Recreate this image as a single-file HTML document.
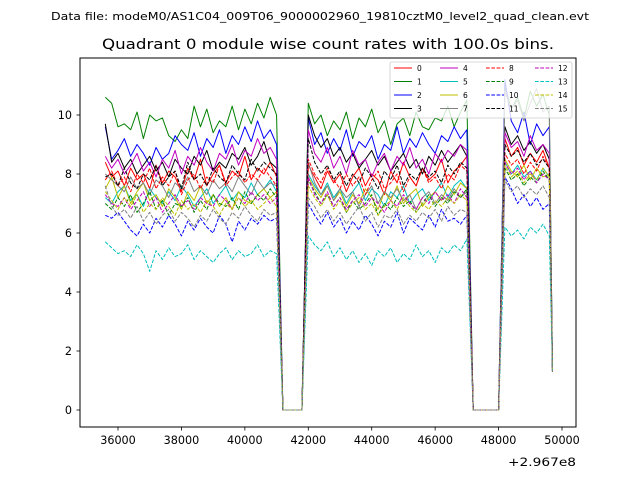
<!DOCTYPE html>
<html><head><meta charset="utf-8"><style>
body{margin:0;background:#fff;}
svg{display:block;font-family:"DejaVu Sans","Liberation Sans",sans-serif;}
</style></head><body>
<svg id="chart" width="640" height="480" viewBox="0 0 640 480">
<rect width="640" height="480" fill="#fff"/>
<text x="51" y="20" font-size="10.5" textLength="538" lengthAdjust="spacingAndGlyphs">Data file: modeM0/AS1C04_009T06_9000002960_19810cztM0_level2_quad_clean.evt</text>
<text x="102" y="49" font-size="14" textLength="452" lengthAdjust="spacingAndGlyphs">Quadrant 0 module wise count rates with 100.0s bins.</text>
<g id="plot"></g>
<rect x="80" y="58" width="496" height="369" fill="none" stroke="#000" stroke-width="1"/>
<g id="xticks"></g>
<g id="yticks"></g>
<text x="508" y="466" font-size="11.5" textLength="68" lengthAdjust="spacingAndGlyphs">+2.967e8</text>
<g id="legend"></g>
</svg>
<script>
const xTickVals = [36000,38000,40000,42000,44000,46000,48000,50000];
const yTickVals = [0,2,4,6,8,10];
const seriesNames = ["0","1","2","3","4","5","6","7","8","9","10","11","12","13","14","15"];
const seriesColors = ["#ff0000","#008000","#0000ff","#000000","#bf00bf","#00bfbf","#bfbf00","#808080","#ff0000","#008000","#0000ff","#000000","#bf00bf","#00bfbf","#bfbf00","#808080"];
const times = [];
for (let t = 35600; t <= 49600; t += 200) times.push(t);
times.push(49700);
const s0 = [8.4,7.9,8.1,7.6,8.2,7.8,8.0,7.5,8.3,7.7,8.1,7.9,7.4,8.2,7.8,8.5,7.6,8.0,8.3,7.7,8.1,7.9,8.6,7.8,8.2,8.0,8.4,7.9,0,0,0,0,8.3,7.9,7.5,8.1,7.7,8.0,7.4,7.9,8.2,7.6,8.0,7.8,7.3,8.1,7.7,8.4,7.9,7.6,8.2,7.8,8.0,8.5,7.7,8.1,8.3,8.6,0,0,0,0,0,9.2,8.6,8.9,8.3,8.7,8.4,8.8,8.2,1.4];
const s1 = [10.6,10.4,9.6,9.7,9.5,10.1,9.2,10.0,9.8,9.9,9.3,9.1,9.5,9.2,10.3,9.6,10.2,9.4,9.8,9.6,10.3,9.5,10.2,9.7,10.4,9.9,10.6,10.0,0,0,0,0,10.4,9.7,10.0,9.3,9.8,9.5,10.1,9.2,9.9,9.6,10.2,9.4,9.8,9.0,9.7,9.9,9.3,10.1,9.6,9.5,9.9,9.8,10.3,9.6,10.1,10.5,0,0,0,0,0,11.0,10.2,10.6,9.9,10.8,10.3,10.7,10.0,1.5];
const s2 = [9.6,8.5,8.8,9.2,8.6,9.0,8.7,8.3,8.9,8.5,8.7,9.3,9.0,8.8,9.4,8.6,9.2,8.9,9.5,8.7,9.3,9.0,9.6,9.1,9.8,9.2,9.5,9.0,0,0,0,0,9.9,9.0,9.4,8.7,9.2,8.8,9.5,8.6,9.1,8.9,9.3,8.5,9.0,8.8,9.6,8.7,9.2,8.9,9.4,9.0,8.7,9.3,9.1,9.6,9.2,9.5,0,0,0,0,0,11.2,9.8,9.4,10.1,9.0,9.7,9.3,9.6,1.4];
const s3 = [9.7,8.4,8.7,8.2,8.5,8.0,8.3,8.6,8.1,8.4,7.9,8.5,8.2,8.0,8.6,8.3,8.8,8.1,8.4,8.2,8.7,8.5,8.9,8.3,8.6,9.1,8.4,8.2,0,0,0,0,10.0,9.3,8.9,9.2,8.6,8.9,8.4,8.7,8.2,8.5,8.8,8.3,8.6,8.1,8.4,8.7,8.2,8.5,8.0,8.6,8.3,8.8,8.4,8.7,9.0,8.6,0,0,0,0,0,9.6,9.0,9.3,8.8,9.1,8.7,9.0,8.5,1.3];
const s4 = [8.6,8.2,8.5,8.0,8.3,8.7,8.1,8.4,7.9,8.5,8.2,8.8,8.0,8.6,8.3,8.9,8.4,8.1,8.7,8.5,9.0,8.3,8.8,8.6,9.2,8.7,8.9,8.5,0,0,0,0,9.5,8.7,8.4,8.9,8.2,8.6,8.0,8.8,8.3,8.5,7.9,8.4,8.7,8.1,8.6,8.3,8.9,8.2,8.5,8.0,8.7,8.4,8.8,8.6,9.0,8.8,0,0,0,0,0,9.4,8.9,9.1,8.6,9.3,8.8,9.0,8.7,1.3];
const s5 = [7.2,7.0,7.4,7.6,7.1,7.3,6.9,7.5,7.2,7.0,7.4,7.1,7.6,7.3,6.9,7.2,7.5,7.0,7.3,7.6,7.1,7.4,7.2,7.7,7.3,7.5,7.8,7.4,0,0,0,0,8.0,7.6,7.3,7.7,7.2,7.5,7.0,7.4,7.7,7.1,7.5,7.3,6.9,7.4,7.2,7.6,7.0,7.3,7.5,7.1,7.4,7.7,7.2,7.6,7.8,7.5,0,0,0,0,0,8.4,8.0,8.3,7.9,8.1,7.8,8.2,7.9,1.5];
const s6 = [7.5,7.9,7.2,7.6,7.0,7.4,7.7,7.1,7.3,6.9,7.5,7.2,6.8,7.4,7.1,7.6,7.0,7.3,6.9,7.2,6.8,7.4,7.1,7.0,7.3,7.5,7.2,7.4,0,0,0,0,7.9,7.5,7.2,7.6,7.1,7.4,6.9,7.3,7.0,7.5,7.2,6.8,7.4,7.1,7.6,7.0,7.3,7.5,6.9,7.2,7.4,7.1,7.6,7.3,7.7,7.5,0,0,0,0,0,8.5,8.1,7.9,8.3,7.8,8.2,7.9,8.0,1.3];
const s7 = [8.0,7.8,7.6,7.4,7.9,7.5,7.7,7.3,7.8,7.6,7.2,7.7,7.5,7.9,7.4,7.6,7.3,7.8,7.5,7.7,7.4,7.9,7.6,7.3,7.8,7.5,7.7,7.6,0,0,0,0,8.4,7.7,7.3,7.6,7.1,7.5,7.2,7.4,6.9,7.3,7.6,7.0,7.4,7.2,7.5,7.1,7.3,6.8,7.2,7.4,7.0,7.3,7.1,7.5,7.2,7.4,0,0,0,0,0,10.8,10.2,10.5,9.8,10.4,10.9,10.1,10.3,1.3];
const s8 = [7.8,8.1,7.6,7.9,7.4,8.0,7.7,8.2,7.5,7.9,7.6,8.1,7.3,7.8,8.0,7.5,7.9,7.7,8.3,7.6,7.9,8.1,7.7,8.0,7.8,8.2,7.9,7.6,0,0,0,0,8.5,8.0,7.7,8.2,7.8,7.5,8.0,7.6,7.9,7.3,7.8,8.1,7.5,7.7,8.0,7.4,7.9,7.6,8.2,7.7,7.9,7.5,8.0,7.8,8.3,8.1,0,0,0,0,0,8.7,8.3,8.5,8.0,8.4,8.1,8.6,8.2,1.3];
const s9 = [7.0,6.8,7.2,6.9,7.3,6.7,7.0,7.4,6.8,7.1,6.6,7.0,6.9,7.2,6.7,7.1,6.8,7.3,7.0,6.9,7.2,6.8,7.4,7.0,7.3,7.1,7.5,7.2,0,0,0,0,7.8,7.4,7.0,7.3,6.9,7.2,6.7,7.1,6.8,7.0,7.3,6.6,7.0,6.8,7.2,6.9,7.1,6.7,7.0,7.3,6.9,7.2,7.0,7.4,7.2,7.5,0,0,0,0,0,8.2,7.8,8.0,7.6,7.9,7.7,8.1,7.8,1.3];
const s10 = [6.6,6.5,6.7,6.4,6.1,5.9,6.3,6.0,6.5,6.2,6.6,6.3,5.9,6.4,6.1,6.5,6.2,6.0,6.6,6.3,5.7,6.4,6.1,6.5,6.3,6.6,6.4,6.5,0,0,0,0,7.0,6.6,6.3,6.7,6.2,6.5,6.0,6.4,6.1,6.6,6.3,5.9,6.4,6.2,6.7,6.0,6.5,6.3,6.1,6.6,6.2,6.8,6.4,6.5,6.3,6.6,0,0,0,0,0,7.9,7.5,7.0,7.3,6.9,7.2,6.8,7.0,1.3];
const s11 = [7.9,8.0,7.6,8.2,7.7,7.5,8.0,7.8,8.3,7.6,7.9,8.1,7.5,8.4,7.8,8.0,7.6,8.2,7.9,7.7,8.3,8.0,7.8,8.5,8.1,8.4,8.2,8.0,0,0,0,0,9.2,8.4,8.0,8.3,7.8,8.1,7.6,8.0,7.7,8.2,7.9,7.5,8.1,7.8,8.3,7.6,8.0,7.8,8.2,7.9,8.1,7.7,8.3,8.0,8.4,8.2,0,0,0,0,0,9.0,8.6,8.8,8.4,8.7,8.3,8.5,8.2,1.3];
const s12 = [7.3,7.0,6.9,7.2,6.8,7.1,7.4,6.9,7.2,6.7,7.0,7.3,6.9,7.1,6.8,7.2,7.0,6.9,7.3,7.1,6.8,7.2,7.0,7.4,7.1,7.3,7.0,7.2,0,0,0,0,7.9,7.3,7.0,7.4,6.9,7.2,6.8,7.1,7.3,6.9,7.2,7.0,6.7,7.1,6.9,7.3,7.0,6.8,7.2,7.0,7.4,7.1,7.3,7.0,7.5,7.2,0,0,0,0,0,8.4,8.0,8.2,7.8,8.1,7.7,8.0,7.8,1.3];
const s13 = [5.7,5.5,5.3,5.4,5.2,5.6,5.3,4.7,5.4,5.1,5.5,5.2,5.3,5.6,5.1,5.4,5.2,5.0,5.3,5.5,5.1,5.4,5.2,5.3,5.6,5.2,5.4,5.3,0,0,0,0,5.9,5.6,5.4,5.7,5.2,5.5,5.1,5.4,5.0,5.3,4.9,5.4,5.2,5.5,5.0,5.3,5.1,5.6,5.2,5.4,5.0,5.5,5.3,5.6,5.4,5.8,0,0,0,0,0,6.2,5.9,6.1,5.8,6.2,6.0,6.3,5.9,1.3];
const s14 = [7.4,7.1,6.8,7.2,6.9,7.3,6.7,7.0,6.8,7.2,6.9,6.6,7.1,6.8,7.0,6.7,7.1,6.9,6.6,7.0,6.8,7.2,6.9,7.1,6.8,7.0,7.2,6.9,0,0,0,0,7.6,7.2,6.9,7.3,6.8,7.1,6.7,7.0,7.2,6.8,7.0,6.6,6.9,7.1,6.8,7.2,6.9,6.7,7.0,6.8,7.1,6.9,7.2,7.0,7.3,7.1,0,0,0,0,0,8.3,7.9,8.1,7.7,8.0,7.8,8.2,7.9,1.3];
const s15 = [7.6,6.9,6.6,6.8,6.5,6.9,6.4,6.7,6.3,6.6,6.8,6.4,6.7,6.5,6.2,6.6,6.4,6.8,6.5,6.3,6.7,6.5,6.9,6.6,6.4,6.8,6.6,6.7,0,0,0,0,7.2,6.9,6.5,6.8,6.4,6.7,6.3,6.6,6.9,6.4,6.7,6.2,6.6,6.5,6.8,6.3,6.6,6.4,6.7,6.5,6.8,6.4,6.9,6.6,6.8,6.7,0,0,0,0,0,7.8,7.4,7.6,7.2,7.5,7.3,7.6,7.2,1.3];
const allSeries = [s0,s1,s2,s3,s4,s5,s6,s7,s8,s9,s10,s11,s12,s13,s14,s15];

const NS = "http://www.w3.org/2000/svg";
function xScale(v){ return 118 + (v - 36000) * 444 / 14000; }
function yScale(v){ return 410 - v * 29.5; }
function mk(tag, attrs){ const e = document.createElementNS(NS, tag); for (const k in attrs) e.setAttribute(k, attrs[k]); return e; }

const plot = document.getElementById('plot');
allSeries.forEach((vals, si) => {
  const pts = vals.map((v, i) => xScale(times[i]).toFixed(2) + "," + yScale(v).toFixed(2)).join(" ");
  const pl = mk('polyline', {points: pts, fill: 'none', stroke: seriesColors[si], 'stroke-width': 1, 'stroke-linejoin': 'round'});
  if (si >= 8) pl.setAttribute('stroke-dasharray', '3.7,1.6');
  
  
  plot.appendChild(pl);
});

const xg = document.getElementById('xticks');
xTickVals.forEach(v => {
  const x = xScale(v);
  const t = mk('line', {x1: x, x2: x, y1: 427, y2: 430.5, stroke: '#000', 'stroke-width': 0.8});
  
  
  xg.appendChild(t);
  const l = mk('text', {x: x, y: 444, 'font-size': 11.2, 'text-anchor': 'middle'});
  l.textContent = v;
  
  
  xg.appendChild(l);
});
const yg = document.getElementById('yticks');
yTickVals.forEach(v => {
  const y = yScale(v);
  const t = mk('line', {x1: 76.5, x2: 80, y1: y, y2: y, stroke: '#000', 'stroke-width': 0.8});
  
  
  yg.appendChild(t);
  const l = mk('text', {x: 72, y: y + 4, 'font-size': 11.2, 'text-anchor': 'end'});
  l.textContent = v;
  
  
  yg.appendChild(l);
});

const lg = document.getElementById('legend');
const box = mk('rect', {x: 390, y: 62, width: 182, height: 56, rx: 2, fill: '#fff', 'fill-opacity': 0.8, stroke: '#ccc', 'stroke-width': 0.8});


lg.appendChild(box);
const colX = [394, 440, 486, 535];
const rowY = [68, 81.5, 95, 108.5];
seriesNames.forEach((n, i) => {
  const cx = colX[Math.floor(i / 4)], cy = rowY[i % 4];
  const g = mk('g', {});
  
  
  const ln = mk('line', {x1: cx, x2: cx + 18, y1: cy, y2: cy, stroke: seriesColors[i], 'stroke-width': 1});
  if (i >= 8) ln.setAttribute('stroke-dasharray', '3.7,1.6');
  g.appendChild(ln);
  const tx = mk('text', {x: cx + 23, y: cy + 2.8, 'font-size': 7.5});
  tx.textContent = n;
  g.appendChild(tx);
  lg.appendChild(g);
});
</script>
</body></html>
